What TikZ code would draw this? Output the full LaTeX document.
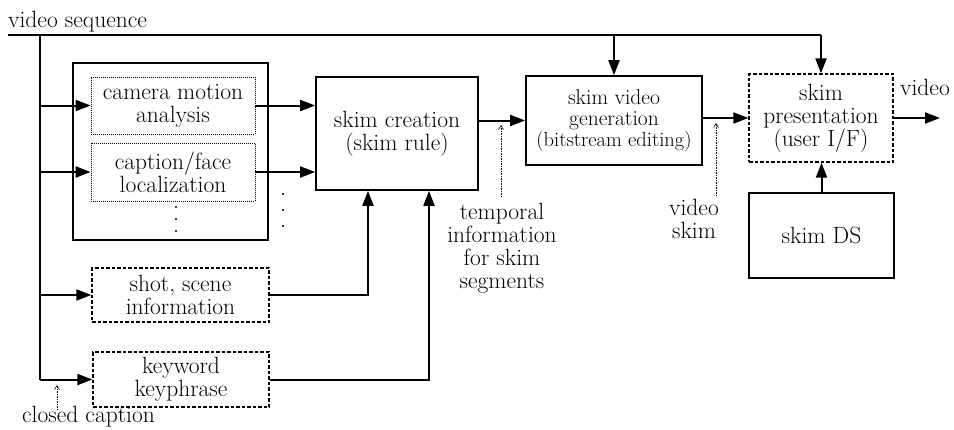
\documentclass[tikz,border=0pt]{standalone}
\usetikzlibrary{arrows.meta}
\begin{document}
\begin{tikzpicture}[x=1pt,y=-1pt,
  every node/.style={font=\fontsize{23.5}{23}\selectfont},
  solidbox/.style={draw,line width=1.7pt,minimum width=#1,inner sep=0pt,align=center},
  dashbox/.style={draw,line width=1.3pt,dash pattern=on 3.5pt off 2pt,inner sep=0pt,align=center},
  dotbox/.style={draw,line width=0.8pt,dash pattern=on 1pt off 1pt,inner sep=0pt,align=center},
  conn/.style={line width=2pt},
  arr/.style={line width=2pt,-{Triangle[length=15pt,width=11pt]}},
  note/.style={line width=0.6pt,dash pattern=on 1.5pt off 1pt,-{Straight Barb[length=4pt,width=5pt]}},
  lbl/.style={inner sep=0pt,align=center},
  dotmark/.style={fill,circle,inner sep=0pt,minimum size=2.4pt}
]
\useasboundingbox (0,0) rectangle (954,429);

% boxes
\node[draw,line width=1.7pt,minimum width=195pt,minimum height=177pt] (grp) at (170.5,151.5) {};
\node[dotbox,minimum width=164pt,minimum height=57pt] (cam) at (173,105.5) {camera motion\\analysis};
\node[dotbox,minimum width=164pt,minimum height=58pt] (cap) at (173,172) {caption/face\\localization};
\node[dashbox,minimum width=177pt,minimum height=54pt] (shot) at (180.5,295) {shot, scene\\information};
\node[dashbox,minimum width=176pt,minimum height=55pt] (key) at (181,379.5) {keyword\\keyphrase};
\node[solidbox=162pt,minimum height=113pt] (crea) at (397,133.5) {skim creation\\(skim rule)};
\node[solidbox=176pt,minimum height=89pt,font=\fontsize{21.5}{21}\selectfont] (gen) at (614,120.5) {skim video\\generation\\{\fontsize{20.5}{21}\selectfont(bitstream editing)}};
\node[dashbox,minimum width=144pt,minimum height=88pt] (pres) at (821,118) {skim\\presentation\\(user I/F)};
\node[solidbox=145pt,minimum height=85pt] (ds) at (821.5,235.5) {skim DS};

% dots
\node[dotmark] (d1) at (176,207) {};
\node[dotmark] (d2) at (176,219) {};
\node[dotmark] (d3) at (176,231) {};
\node[dotmark] (d4) at (283,194) {};
\node[dotmark] (d5) at (283,210) {};
\node[dotmark] (d6) at (283,226) {};

% labels
\node[lbl,anchor=base west] (vslbl) at (8,27) {video sequence};
\node[lbl,anchor=base west] (cclbl) at (22,422) {closed caption};
\node[lbl,anchor=base west] (vout) at (900,95) {video};
\node[lbl,anchor=north] (tlbl) at (502,203) {temporal\\information\\for skim\\segments};
\node[lbl,anchor=north] (vslb) at (694,199) {video\\skim};

% coordinates
\coordinate (vs) at (8,35);
\coordinate (tk) at (40,35);
\coordinate (vend) at (940,118);
\coordinate (ccs) at (57,410);
\coordinate (cce) at (57,385);
\coordinate (ts) at (501,197);
\coordinate (te) at (501,125);
\coordinate (ks) at (716,196);
\coordinate (ke) at (716,123);

% video sequence line and trunk
\draw[conn] (vs) -- (vs -| pres.north);
\draw[arr] (vs -| pres.north) -- (pres.north);
\draw[arr] (vs -| gen.north) -- (gen.north);
\draw[conn] (tk) -- (tk |- key.west);
\draw[arr] (tk |- cam.west) -- (cam.west);
\draw[arr] (tk |- cap.west) -- (cap.west);
\draw[arr] (tk |- shot.west) -- (shot.west);
\draw[arr] (tk |- key.west) -- (key.west);

% to skim creation
\draw[arr] (cam.east) -- (cam.east -| crea.west);
\draw[arr] (cap.east) -- (cap.east -| crea.west);
\draw[arr] (shot.east) -| ([xshift=-29pt]crea.south);
\draw[arr] (key.east) -| ([xshift=32pt]crea.south);

% main chain
\draw[arr] (crea.east |- gen.west) -- (gen.west);
\draw[arr] (gen.east |- pres.west) -- (pres.west);
\draw[arr] (pres.east) -- (vend);
\draw[arr] (ds.north) -- (ds.north |- pres.south);

% notes
\draw[note] (ccs) -- (cce);
\draw[note] (ts) -- (te);
\draw[note] (ks) -- (ke);
\end{tikzpicture}
\end{document}
